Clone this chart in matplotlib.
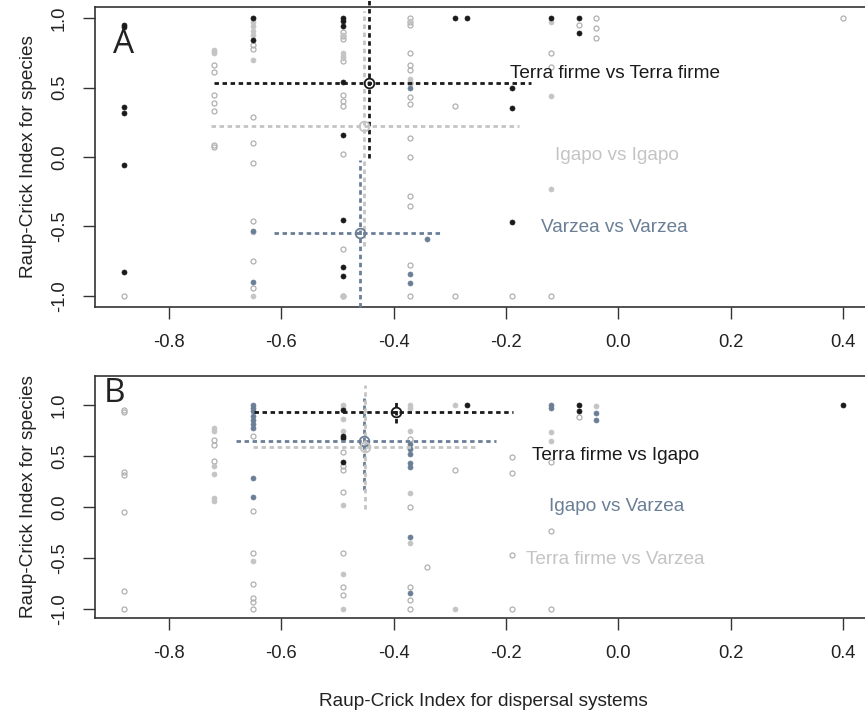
import numpy as np
import matplotlib
matplotlib.use("Agg")
import matplotlib.pyplot as plt

plt.rcParams['font.family'] = ['Liberation Sans', 'DejaVu Sans']

# colours for the three comparison types
c_black = '#1a1a1a'
c_grey = '#c4c4c4'
c_slate = '#6a7f96'
c_open = '#b0b0b0'

# ---- panel A: within-habitat comparisons ----
a_tf_x = [-0.88, -0.88, -0.88, -0.88, -0.88, -0.88, -0.65, -0.65,
          -0.49, -0.49, -0.49, -0.49, -0.49, -0.49, -0.49, -0.49,
          -0.29, -0.27, -0.19, -0.19, -0.19, -0.12, -0.07, -0.07]
a_tf_y = [0.95, 0.935, 0.36, 0.32, -0.06, -0.83, 1.0, 0.84,
          1.0, 0.98, 0.94, 0.54, 0.16, -0.45, -0.79, -0.86,
          1.0, 1.0, 0.50, 0.35, -0.47, 1.0, 1.0, 0.89]

a_ig_x = [-0.72, -0.72, -0.72, -0.65, -0.65, -0.65, -0.65, -0.65, -0.65, -0.65, -0.65,
          -0.49, -0.49, -0.49, -0.49, -0.49, -0.37, -0.37, -0.37, -0.12, -0.12, -0.12]
a_ig_y = [0.77, 0.76, 0.75, 1.0, 0.97, 0.94, 0.91, 0.88, 0.70, -0.54, -1.0,
          0.88, 0.75, 0.73, 0.71, -1.0, 0.98, 0.56, 0.54, 0.97, 0.44, -0.23]

a_vz_x = [-0.65, -0.65, -0.37, -0.34, -0.37, -0.37]
a_vz_y = [-0.53, -0.90, 0.50, -0.59, -0.84, -0.91]

a_ns_x = [-0.88,
          -0.72, -0.72, -0.72, -0.72, -0.72, -0.72, -0.72,
          -0.65, -0.65, -0.65, -0.65, -0.65, -0.65, -0.65, -0.65,
          -0.49, -0.49, -0.49, -0.49, -0.49, -0.49, -0.49, -0.49, -0.49, -0.49,
          -0.37, -0.37, -0.37, -0.37, -0.37, -0.37, -0.37, -0.37, -0.37, -0.37,
          -0.37, -0.37, -0.37, -0.37, -0.37,
          -0.29, -0.29, -0.19, -0.12, -0.12, -0.12, -0.07,
          -0.04, -0.04, -0.04, 0.40]
a_ns_y = [-1.0,
          0.66, 0.61, 0.45, 0.39, 0.33, 0.09, 0.07,
          0.81, 0.78, 0.29, 0.10, -0.04, -0.46, -0.75, -0.94,
          0.90, 0.87, 0.85, 0.69, 0.45, 0.40, 0.37, 0.02, -0.66, -1.0,
          1.0, 0.97, 0.95, 0.75, 0.66, 0.63, 0.53, 0.43, 0.38, 0.14,
          0.0, -0.28, -0.35, -0.78, -1.0,
          0.37, -1.0, -1.0, 0.75, 0.65, -1.0, 0.95,
          1.0, 0.93, 0.86, 1.0]

# group means with their spread (x_lo, x_hi, y_lo, y_hi)
a_labels = ['Terra firme vs Terra firme', 'Igapo vs Igapo', 'Varzea vs Varzea']
a_mean_x = [-0.443, -0.453, -0.459]
a_mean_y = [0.532, 0.223, -0.547]
a_x_lo = [-0.72, -0.725, -0.612]
a_x_hi = [-0.156, -0.176, -0.316]
a_y_lo = [-0.01, -0.64, -1.08]
a_y_hi = [1.15, 1.05, -0.02]

# ---- panel B: between-habitat comparisons ----
b_tf_x = [-0.49, -0.49, -0.49, -0.49, -0.27, -0.07, -0.07, 0.40]
b_tf_y = [0.95, 0.70, 0.68, 0.44, 1.0, 1.0, 0.94, 1.0]

b_ig_x = [-0.72, -0.72, -0.72, -0.72, -0.72, -0.72, -0.65,
          -0.49, -0.49, -0.49, -0.49, -0.49, -0.49, -0.49,
          -0.37, -0.37, -0.37, -0.37, -0.37, -0.37,
          -0.29, -0.29, -0.12, -0.12, -0.04]
b_ig_y = [0.78, 0.75, 0.40, 0.33, 0.09, 0.06, -0.53,
          1.0, 0.97, 0.87, 0.75, 0.02, -0.66, -1.0,
          1.0, 0.97, 0.75, 0.58, 0.14, -0.35,
          1.0, -1.0, 0.74, 0.65, 0.99]

b_vz_x = [-0.65, -0.65, -0.65, -0.65, -0.65, -0.65, -0.65, -0.65, -0.65,
          -0.37, -0.37, -0.37, -0.37, -0.37, -0.37, -0.37,
          -0.12, -0.12, -0.04, -0.04]
b_vz_y = [1.0, 0.97, 0.94, 0.90, 0.86, 0.82, 0.78, 0.29, 0.10,
          0.62, 0.57, 0.52, 0.43, 0.39, -0.29, -0.84,
          1.0, 0.97, 0.92, 0.86]

b_ns_x = [-0.88, -0.88, -0.88, -0.88, -0.88, -0.88, -0.88,
          -0.72, -0.72, -0.72,
          -0.65, -0.65, -0.65, -0.65, -0.65, -0.65, -0.65,
          -0.49, -0.49, -0.49, -0.49, -0.49, -0.49, -0.49,
          -0.37, -0.37, -0.37, -0.37, -0.37,
          -0.34, -0.29,
          -0.19, -0.19, -0.19, -0.19,
          -0.12, -0.12, -0.12, -0.07]
b_ns_y = [0.95, 0.93, 0.35, 0.32, -0.05, -0.82, -1.0,
          0.66, 0.61, 0.45,
          0.70, -0.04, -0.45, -0.75, -0.89, -0.93, -1.0,
          0.54, 0.40, 0.37, 0.15, -0.45, -0.78, -0.86,
          0.67, 0.0, -0.78, -0.91, -1.0,
          -0.59, 0.37,
          0.49, 0.34, -0.47, -1.0,
          0.44, -0.23, -1.0, 0.89]

b_labels = ['Terra firme vs Igapo', 'Igapo vs Varzea', 'Terra firme vs Varzea']
b_mean_x = [-0.395, -0.453, -0.451]
b_mean_y = [0.93, 0.65, 0.59]
b_x_lo = [-0.649, -0.68, -0.65]
b_x_hi = [-0.187, -0.218, -0.254]
b_y_lo = [0.83, 0.17, -0.02]
b_y_hi = [1.06, 1.07, 1.20]

# label placement
a_text_x = [-0.192, -0.112, -0.137]
a_text_y = [0.60, 0.01, -0.51]
b_text_x = [-0.153, -0.124, -0.164]
b_text_y = [0.51, 0.005, -0.51]

xticks = [-0.8, -0.6, -0.4, -0.2, 0.0, 0.2, 0.4]
yticks = [-1.0, -0.5, 0.0, 0.5, 1.0]

fig = plt.figure(figsize=(8.65, 7.11), dpi=100)
W, H = 865, 711
ax_a = fig.add_axes([95 / W, 1 - 307 / H, 777 / W, 300 / H])
ax_b = fig.add_axes([95 / W, 1 - 618 / H, 777 / W, 242 / H])


def draw_panel(ax, tf, ig, vz, ns, mx, my, xlo, xhi, ylo, yhi, cols,
               labels, tx, ty, letter, lx, ly, ylim):
    ms = 3.6
    ax.plot(ns[0], ns[1], 'o', ms=ms, mfc='none', mec=c_open, mew=0.9, zorder=2)
    ax.plot(ig[0], ig[1], 'o', ms=ms, mfc=c_grey, mec=c_grey, mew=0.5, zorder=3)
    ax.plot(vz[0], vz[1], 'o', ms=ms, mfc=c_slate, mec=c_slate, mew=0.5, zorder=3)
    ax.plot(tf[0], tf[1], 'o', ms=ms, mfc=c_black, mec=c_black, mew=0.5, zorder=3)

    for i in range(3):
        ls = (0, (1.6, 1.3))
        ax.plot([xlo[i], xhi[i]], [my[i], my[i]], color=cols[i], lw=2.0,
                ls=ls, zorder=4)
        ax.plot([mx[i], mx[i]], [ylo[i], yhi[i]], color=cols[i], lw=2.0,
                ls=ls, zorder=4, clip_on=False)
        ax.plot(mx[i], my[i], 'o', ms=7, mfc='none', mec=cols[i], mew=1.3,
                zorder=5)
        ax.text(tx[i], ty[i], labels[i], color=cols[i], fontsize=13.7,
                ha='left', va='center')

    ax.text(lx, ly, letter, fontsize=24, ha='center', va='center',
            family=['Open Sans', 'DejaVu Sans'], color='#222222')

    ax.set_xlim(-0.9312, 0.4512)
    ax.set_ylim(*ylim)
    ax.set_xticks(xticks)
    ax.set_xticklabels([f"{v:.1f}" for v in xticks])
    ax.set_yticks(yticks)
    ax.set_yticklabels([f"{v:.1f}" for v in yticks], rotation=90,
                       va='center')
    ax.tick_params(length=8.6, width=1.0, pad=11, labelsize=13.2,
                   color='#333333', labelcolor='#222222')
    for sp in ax.spines.values():
        sp.set_color('#333333')
        sp.set_linewidth(1.2)
    ax.set_ylabel('Raup-Crick Index for species', fontsize=13.7,
                  color='#222222')


draw_panel(ax_a, (a_tf_x, a_tf_y), (a_ig_x, a_ig_y), (a_vz_x, a_vz_y),
           (a_ns_x, a_ns_y), a_mean_x, a_mean_y, a_x_lo, a_x_hi, a_y_lo,
           a_y_hi, [c_black, c_grey, c_slate], a_labels, a_text_x, a_text_y,
           'A', -0.88, 0.81, (-1.08, 1.08))
draw_panel(ax_b, (b_tf_x, b_tf_y), (b_ig_x, b_ig_y), (b_vz_x, b_vz_y),
           (b_ns_x, b_ns_y), b_mean_x, b_mean_y, b_x_lo, b_x_hi, b_y_lo,
           b_y_hi, [c_black, c_slate, c_grey], b_labels, b_text_x, b_text_y,
           'B', -0.896, 1.117, (-1.088, 1.288))

ax_a.yaxis.set_label_coords((37 - 95) / 777, 0.5)
ax_b.yaxis.set_label_coords((37 - 95) / 777, 0.5)
ax_b.set_xlabel('Raup-Crick Index for dispersal systems', fontsize=13.7,
                color='#222222')
ax_b.xaxis.set_label_coords((483 - 95) / 777, (618 - 693) / 242)

fig.savefig('out.png', dpi=100)
